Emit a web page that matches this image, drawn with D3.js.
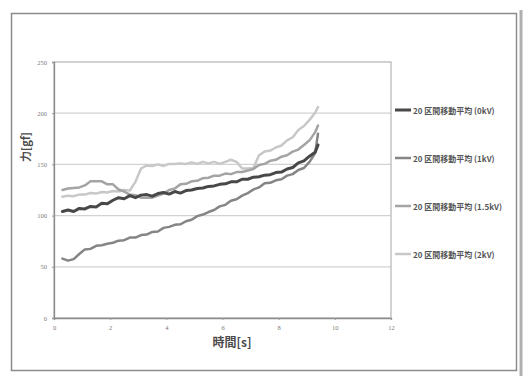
<!DOCTYPE html>
<html>
<head>
<meta charset="utf-8">
<script src="https://cdn.jsdelivr.net/npm/d3@7"></script>
<style>
  html, body { margin: 0; padding: 0; background: #fff; }
  svg { display: block; }
</style>
</head>
<body>
<svg id="chart" width="528" height="376"></svg>
<script>
// Sample times [s], shared by all four series
const times = [0.3, 0.5, 0.7, 0.9, 1.1, 1.3, 1.5, 1.7, 1.9, 2.1, 2.3, 2.5, 2.7, 2.9, 3.1, 3.3,
  3.5, 3.7, 3.9, 4.1, 4.3, 4.5, 4.7, 4.9, 5.1, 5.3, 5.5, 5.7, 5.9, 6.1, 6.3, 6.5, 6.7, 6.9,
  7.1, 7.3, 7.5, 7.7, 7.9, 8.1, 8.3, 8.5, 8.7, 8.9, 9.1, 9.3, 9.4];

// 20-point moving averages of force [gf]
const force0kV = [104, 105.5, 104, 107, 106.5, 109, 108.5, 112, 111.5, 115, 117.5, 116.5, 119.5, 117.5,
  120, 120.5, 119, 121.5, 122.5, 121, 123.5, 122, 124.5, 125, 126.5, 127, 128.5, 129, 130.5, 131,
  133, 133, 135.5, 135.5, 137.5, 138, 139.5, 140, 142, 142.5, 145.5, 147, 151.5, 153.5, 158, 162, 169];
const force1kV = [58, 56, 57.5, 62.5, 67, 67.5, 70.5, 71, 72.5, 73.5, 75.5, 76, 78.5, 78.5, 81, 81.5,
  84, 84.5, 88, 89, 91, 91.5, 94.5, 96, 99.5, 101, 103.5, 105.5, 109, 110.5, 114.5, 116, 119.5, 122,
  125.5, 127.5, 131.5, 132, 134.5, 135.5, 139, 140.5, 144.5, 146.5, 152.5, 161, 180];
const force15kV = [125, 126.5, 127, 127.5, 129.5, 133.5, 133.5, 133.5, 130.5, 130.5, 125.5, 123.5, 120.5,
  120, 117.5, 117.5, 117.5, 119.5, 121.5, 125, 126.5, 130.5, 131, 133.5, 134, 136.5, 137, 139, 139,
  141, 140.5, 142.5, 142.5, 144, 145.5, 149.5, 150.5, 153.5, 154.5, 157.5, 159, 162.5, 164.5, 169,
  173.5, 181.5, 188];
const force2kV = [118.5, 119.5, 119, 120.5, 120.5, 122, 121.5, 123, 122.5, 124, 123.5, 125, 124.5, 133,
  146, 149, 148.5, 150, 148.5, 150.5, 150.5, 151, 150.5, 152, 150.5, 152.5, 151, 152.5, 150.5, 152.5,
  154.5, 152.5, 146, 146, 146.5, 159, 162.5, 163.5, 166.5, 168.5, 173.5, 176.5, 183.5, 187.5, 193.5,
  200.5, 206];

const seriesNames = ["20 区間移動平均 (0kV)", "20 区間移動平均 (1kV)", "20 区間移動平均 (1.5kV)", "20 区間移動平均 (2kV)"];
const seriesColors = ["#484848", "#858585", "#a4a4a4", "#c8c8c8"];
const seriesWidths = [3, 2.5, 2.5, 2.5];
const seriesValues = [force0kV, force1kV, force15kV, force2kV];

const xTicks = [0, 2, 4, 6, 8, 10, 12];
const yTicks = [0, 50, 100, 150, 200, 250];
const xTitle = "時間[s]";
const yTitle = "力[gf]";

const svg = d3.select("#chart");

// outer chart frame
svg.append("rect")
  .attr("x", 11.5).attr("y", 13.5).attr("width", 505).attr("height", 357)
  .attr("fill", "#fff").attr("stroke", "#8c8c8c").attr("stroke-width", 1.5);
svg.append("line")
  .attr("x1", 521).attr("x2", 521).attr("y1", 10).attr("y2", 376)
  .attr("stroke", "#b0b0b0").attr("stroke-width", 3);

const x = d3.scaleLinear().domain([0, 12]).range([54, 391]);
const y = d3.scaleLinear().domain([0, 250]).range([318, 62]);

// horizontal gridlines
svg.append("g")
  .selectAll("line")
  .data(yTicks.filter(v => v > 0 && v < 250))
  .join("line")
  .attr("x1", x(0)).attr("x2", x(12))
  .attr("y1", d => y(d)).attr("y2", d => y(d))
  .attr("stroke", "#d2d2d2").attr("stroke-width", 1.2);

// plot area border
svg.append("rect")
  .attr("x", x(0)).attr("y", y(250))
  .attr("width", x(12) - x(0)).attr("height", y(0) - y(250))
  .attr("fill", "none").attr("stroke", "#b4b4b4").attr("stroke-width", 1.2);

// axes
const xAxis = svg.append("g")
  .attr("transform", `translate(0,${y(0)})`)
  .call(d3.axisBottom(x).tickValues(xTicks).tickSize(2).tickPadding(5));
const yAxis = svg.append("g")
  .attr("transform", `translate(${x(0)},0)`)
  .call(d3.axisLeft(y).tickValues(yTicks).tickSize(2).tickPadding(5));
[xAxis, yAxis].forEach(g => {
  g.select(".domain").attr("stroke", "#8c8c8c").attr("stroke-width", 1.3);
  g.selectAll(".tick line").attr("stroke", "#999");
  g.selectAll(".tick text")
    .attr("fill", "#7a7a7a")
    .style("font-family", "'Liberation Serif', serif")
    .style("font-size", "6.5px");
});

// series lines
const line = d3.line()
  .x((d, i) => x(times[i]))
  .y(d => y(d))
  .curve(d3.curveLinear);

svg.append("g")
  .selectAll("path")
  .data(seriesValues.map((v, i) => ({ v, i })).reverse())
  .join("path")
  .attr("d", d => line(d.v))
  .attr("fill", "none")
  .attr("stroke", d => seriesColors[d.i])
  .attr("stroke-width", d => seriesWidths[d.i])
  .attr("stroke-linejoin", "round")
  .attr("stroke-linecap", "round");

// legend
const legend = svg.append("g")
  .selectAll("g")
  .data(seriesNames)
  .join("g")
  .attr("transform", (d, i) => `translate(395,${110 + i * 48})`);
legend.append("line")
  .attr("x1", 0).attr("x2", 16)
  .attr("stroke", (d, i) => seriesColors[i])
  .attr("stroke-width", (d, i) => seriesWidths[i]);
legend.append("text")
  .attr("x", 18).attr("y", 0)
  .attr("dominant-baseline", "central")
  .attr("fill", "#555")
  .style("font-family", "'Noto Sans CJK JP', sans-serif")
  .style("font-size", "8px")
  .style("font-weight", "bold")
  .text(d => d);

// axis titles
svg.append("text")
  .attr("x", 232).attr("y", 347)
  .attr("text-anchor", "middle")
  .attr("fill", "#4a4a4a")
  .style("font-family", "'Noto Sans CJK JP', sans-serif")
  .style("font-size", "12px")
  .style("font-weight", "bold")
  .text(xTitle);
svg.append("text")
  .attr("transform", "translate(30,147) rotate(-90)")
  .attr("text-anchor", "middle")
  .attr("fill", "#4a4a4a")
  .style("font-family", "'Noto Sans CJK JP', sans-serif")
  .style("font-size", "11px")
  .style("font-weight", "bold")
  .text(yTitle);
</script>
</body>
</html>
